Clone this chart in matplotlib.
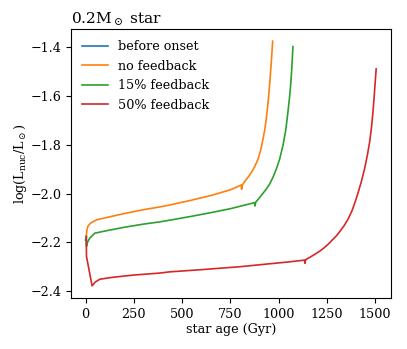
import matplotlib
matplotlib.use("Agg")
import matplotlib.pyplot as plt

plt.rcParams['font.family'] = ['DejaVu Serif']
plt.rcParams['mathtext.fontset'] = 'dejavuserif'
plt.rcParams['font.size'] = 9.2

# before onset
age_before = [0, 2, 4]
lum_before = [-2.190, -2.183, -2.176]

# no feedback
age_nofb = [4, 7, 13, 25, 39, 60, 109, 200, 300, 384, 436, 550, 650, 750, 807, 808, 811,
            830, 845, 859, 876, 893, 907, 919, 928, 936, 945, 953, 962, 969]
lum_nofb = [-2.176, -2.150, -2.133, -2.122, -2.115, -2.107, -2.098, -2.082, -2.066, -2.055,
            -2.047, -2.027, -2.008, -1.985, -1.965, -1.983, -1.966,
            -1.945, -1.930, -1.914, -1.890, -1.860, -1.823, -1.778, -1.740, -1.696,
            -1.630, -1.559, -1.464, -1.378]

# 15% feedback
age_15 = [4, 5, 10, 22, 48, 109, 200, 300, 384, 436, 550, 650, 750, 877, 878, 881,
          900, 918, 936, 953, 970, 988, 1005, 1022, 1036, 1048, 1056, 1062, 1068, 1074]
lum_15 = [-2.176, -2.216, -2.200, -2.182, -2.162, -2.152, -2.138, -2.125, -2.116, -2.109,
          -2.093, -2.078, -2.062, -2.037, -2.051, -2.036,
          -2.018, -2.000, -1.982, -1.962, -1.935, -1.900, -1.860, -1.805, -1.745,
          -1.668, -1.610, -1.559, -1.490, -1.400]

# 50% feedback
age_50 = [4, 5, 34, 50, 74, 143, 250, 384, 436, 600, 800, 953, 1057, 1134, 1136, 1140,
          1165, 1190, 1212, 1235, 1258, 1280, 1300, 1320, 1340, 1360, 1380, 1398, 1410,
          1428, 1445, 1459, 1471, 1480, 1488, 1494, 1499, 1505]
lum_50 = [-2.176, -2.257, -2.377, -2.362, -2.350, -2.342, -2.333, -2.325, -2.320, -2.311,
          -2.299, -2.287, -2.279, -2.272, -2.285, -2.270,
          -2.259, -2.247, -2.236, -2.222, -2.206, -2.188, -2.172, -2.152, -2.130,
          -2.104, -2.070, -2.030, -2.000, -1.952, -1.898, -1.845, -1.790, -1.735,
          -1.670, -1.610, -1.555, -1.491]

fig = plt.figure(figsize=(4.07, 3.49), dpi=100)
ax = fig.add_axes([0.1744, 0.146, 0.7856, 0.771])
lw = 1.2
ax.plot(age_before, lum_before, color='#1f77b4', lw=lw, label='before onset')
ax.plot(age_nofb, lum_nofb, color='#ff7f0e', lw=lw, label='no feedback')
ax.plot(age_15, lum_15, color='#2ca02c', lw=lw, label='15% feedback')
ax.plot(age_50, lum_50, color='#d62728', lw=lw, label='50% feedback')

ax.set_xticks([0, 250, 500, 750, 1000, 1250, 1500])
ax.set_yticks([-2.4, -2.2, -2.0, -1.8, -1.6, -1.4])
ax.set_xlabel('star age (Gyr)', labelpad=1.5)
ax.set_ylabel(r'log(L$_{\rm nuc}$/L$_\odot$)', labelpad=1)
ax.set_title(r'0.2M$_\odot$ star', loc='left', pad=4)
ax.legend(loc='upper left', frameon=False)
fig.savefig('out.png', dpi=100)
